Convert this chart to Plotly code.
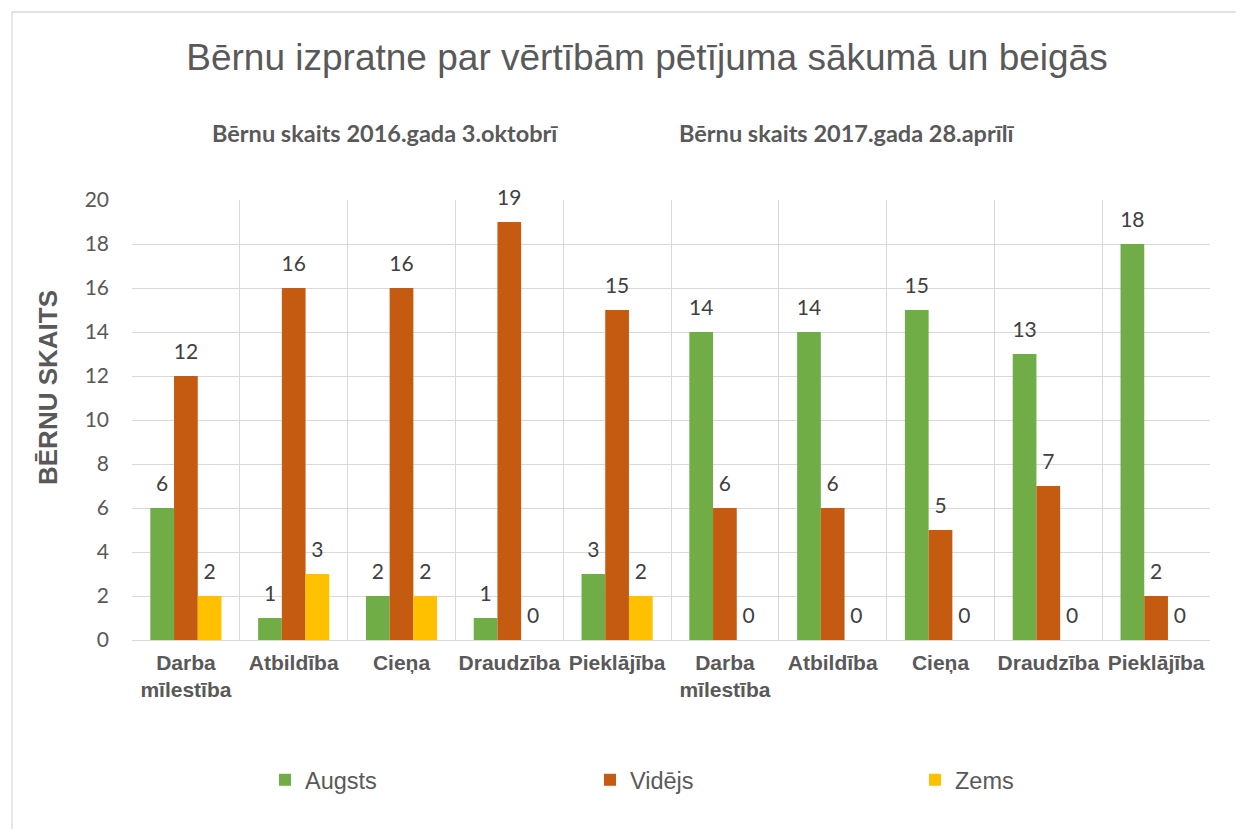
import plotly.graph_objects as go

categories = ["Darba<br>mīlestība", "Atbildība", "Cieņa", "Draudzība", "Pieklājība",
              "Darba<br>mīlestība", "Atbildība", "Cieņa", "Draudzība", "Pieklājība"]
augsts = [6, 1, 2, 1, 3, 14, 14, 15, 13, 18]
videjs = [12, 16, 16, 19, 15, 6, 6, 5, 7, 2]
zems = [2, 3, 2, 0, 2, 0, 0, 0, 0, 0]
series_names = ["Augsts", "Vidējs", "Zems"]
colors = ["#70AD47", "#C55A11", "#FFC000"]
y_ticks = list(range(0, 21, 2))
headers = ["Bērnu skaits 2016.gada 3.oktobrī", "Bērnu skaits 2017.gada 28.aprīlī"]
title_text = "Bērnu izpratne par vērtībām pētījuma sākumā un beigās"
y_title = "BĒRNU SKAITS"

xpos = list(range(len(categories)))
bounds = [i - 0.5 for i in range(len(categories) + 1)]
BARGAP = 0.34
n_series = len(series_names)
bar_w = (1 - BARGAP) / n_series

# page offset (body margin) so coordinates below are given in page pixels
OFF = 8
W, H = 1244 - OFF, 829 - OFF
PL, PR, PT, PB = 132, 1210, 200, 640  # plot area in page pixels
L = PL - OFF
T = PT - OFF
R = W - (PR - OFF)
B = H - (PB - OFF)
pw, ph = PR - PL, PB - PT


def px_x(px):
    return (px - PL) / pw


def px_y(py):
    return (PB - py) / ph


fig = go.Figure()
series_vals = [augsts, videjs, zems]
for name, vals, col in zip(series_names, series_vals, colors):
    fig.add_trace(go.Bar(
        x=xpos, y=vals, name=name, marker_color=col, marker_line_width=0,
        hoverinfo="x+y+name",
    ))

# data labels, placed above each bar of the group
for k, (vals, name) in enumerate(zip(series_vals, series_names)):
    fig.add_trace(go.Scatter(
        x=[i + (k - (n_series - 1) / 2) * bar_w for i in xpos], y=vals,
        mode="markers+text", text=[str(v) for v in vals], textposition="top center",
        marker=dict(size=18, opacity=0), showlegend=False, hoverinfo="skip",
        cliponaxis=False,
        textfont=dict(family="Lato", size=21, color="#404040"),
    ))

fig.update_layout(
    width=W, height=H,
    margin=dict(l=L, r=R, t=T, b=B, autoexpand=False),
    paper_bgcolor="white", plot_bgcolor="white",
    barmode="group", bargap=BARGAP, bargroupgap=0,
    title=dict(text=title_text, x=(647 - OFF) / W, xref="container",
               y=1 - (57 - OFF) / H, yanchor="middle", xanchor="center",
               font=dict(family="Liberation Sans", size=37, color="#595959")),
    xaxis=dict(
        range=[-0.5, len(categories) - 0.5],
        tickvals=xpos, ticktext=["<b>%s</b>" % c for c in categories], showgrid=False,
        tickfont=dict(family="Liberation Sans", size=21, color="#595959"),
        ticks="", showline=False, zeroline=False, ticklabelstandoff=8, tickangle=0,
        minor=dict(tickvals=bounds, showgrid=True, gridcolor="#D9D9D9", gridwidth=1.3, ticks=""),
    ),
    yaxis=dict(
        range=[0, 20], tickvals=y_ticks, showgrid=True, gridcolor="#D9D9D9", gridwidth=1.3,
        zeroline=True, zerolinecolor="#D9D9D9", zerolinewidth=1.3,
        tickfont=dict(family="Lato", size=21, color="#595959"), ticks="", ticklabelstandoff=22,
    ),
    legend=dict(orientation="h", x=px_x(265), xanchor="left",
                y=px_y(780), yanchor="middle", entrywidth=280, entrywidthmode="pixels",
                font=dict(family="Liberation Sans", size=23.5, color="#595959"),
                traceorder="normal"),
    showlegend=True,
)

for i, h in enumerate(headers):
    fig.add_annotation(text="<b>%s</b>" % h, xref="paper", yref="paper",
                       x=px_x([385, 847][i]), y=px_y(133),
                       showarrow=False, xanchor="center", yanchor="middle",
                       font=dict(family="Lato", size=23.5, color="#595959"))

fig.add_annotation(text="<b>%s</b>" % y_title, xref="paper", yref="paper",
                   x=px_x(48), y=px_y(388), textangle=-90,
                   showarrow=False, xanchor="center", yanchor="middle",
                   font=dict(family="Liberation Sans", size=26, color="#595959"))

# outer chart frame
fig.add_shape(type="rect", xref="paper", yref="paper",
              x0=px_x(12), x1=px_x(1244 + 5),
              y0=px_y(829 + 5), y1=px_y(12),
              line=dict(color="#D9D9D9", width=1.3), layer="below")

fig.write_html("out.html")
